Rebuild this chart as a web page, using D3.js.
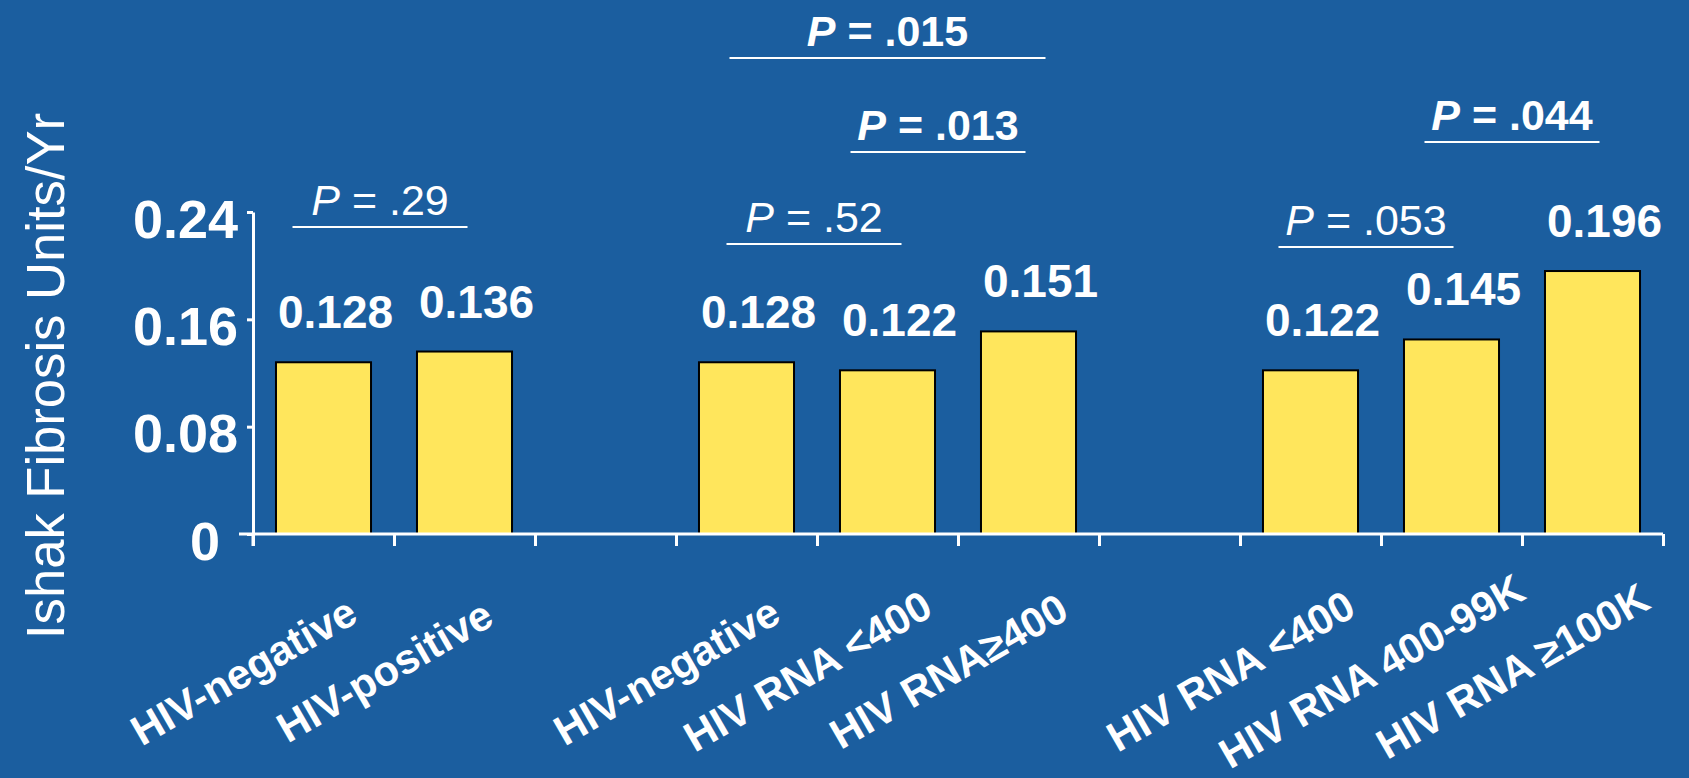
<!DOCTYPE html>
<html>
<head>
<meta charset="utf-8">
<script src="https://cdn.jsdelivr.net/npm/d3@7"></script>
<style>
  html, body { margin: 0; padding: 0; background: #1b5e9f; }
  svg { display: block; }
  text { font-family: "Liberation Sans", Arial, sans-serif; fill: #fff; }
</style>
</head>
<body>
<svg id="chart" width="1689" height="778"></svg>
<script>
// Category slots along the x axis ("" marks a gap between groups)
const slotLabels = [
  "HIV-negative", "HIV-positive", "",
  "HIV-negative", "HIV RNA <400", "HIV RNA\u2265400", "",
  "HIV RNA <400", "HIV RNA 400-99K", "HIV RNA \u2265100K"
];
// Fibrosis progression rate per slot (null = gap)
const rates = [0.128, 0.136, null, 0.128, 0.122, 0.151, null, 0.122, 0.145, 0.196];
const rateLabels = ["0.128", "0.136", "", "0.128", "0.122", "0.151", "", "0.122", "0.145", "0.196"];

// Y axis ticks
const yTicks = [0, 0.08, 0.16, 0.24];
const yTickLabels = ["0", "0.08", "0.16", "0.24"];

// P-value comparisons between slots
const pValues = [".29", ".52", ".015", ".013", ".053", ".044"];
const pFrom = [0, 3, 3, 4, 7, 8];
const pTo = [1, 4, 5, 5, 8, 9];
const pBold = [false, false, true, true, false, true];

// Layout for the comparison brackets (baseline y, horizontal nudge)
const pRowY = [215, 232, 46, 140, 235, 130];
const pNudge = [-14, -3, 0, -20, -15, -10];

const svg = d3.select("#chart");
const W = 1689, H = 778;
svg.append("rect").attr("width", W).attr("height", H).attr("fill", "#1b5e9f");

const left = 253, right = 1663, y0px = 534, yTop = 212;

const x = d3.scaleBand()
  .domain(d3.range(slotLabels.length))
  .range([left, right])
  .paddingInner(0.326)
  .paddingOuter(0.163);

const slotEdge = d3.scaleLinear().domain([0, slotLabels.length]).range([left, right]);

const y = d3.scaleLinear().domain([0, 0.24]).range([y0px, yTop]);

const cx = i => x(i) + x.bandwidth() / 2;

// Y axis
const yAxis = d3.axisLeft(y)
  .tickValues(yTicks)
  .tickSize(6)
  .tickSizeOuter(0)
  .tickFormat((d, i) => yTickLabels[i]);

const gy = svg.append("g").attr("transform", `translate(${left},0)`).call(yAxis);
gy.select(".domain").attr("stroke", "#fff").attr("stroke-width", 3);
gy.selectAll(".tick line").attr("stroke", "#fff").attr("stroke-width", 3);
gy.selectAll(".tick text")
  .attr("fill", "#fff")
  .attr("font-size", 54)
  .attr("font-weight", "bold")
  .attr("font-family", "'Liberation Sans', Arial, sans-serif")
  .attr("x", d => d === 0 ? -33 : -15)
  .attr("dy", null)
  .attr("y", 25);

// Y axis extension below the baseline
svg.append("line")
  .attr("x1", left).attr("x2", left)
  .attr("y1", y0px).attr("y2", y0px + 12)
  .attr("stroke", "#fff").attr("stroke-width", 3);

// Bars
svg.append("g").selectAll("rect")
  .data(rates.map((v, i) => ({ v, i })).filter(d => d.v !== null))
  .join("rect")
  .attr("x", d => x(d.i))
  .attr("width", x.bandwidth())
  .attr("y", d => y(d.v))
  .attr("height", d => y(0) - y(d.v))
  .attr("fill", "#ffe65c")
  .attr("stroke", "#000")
  .attr("stroke-width", 2);

// X axis: baseline with ticks at slot boundaries
const xAxis = d3.axisBottom(slotEdge)
  .tickValues(d3.range(slotLabels.length + 1))
  .tickSize(12)
  .tickSizeOuter(0)
  .tickFormat("");
const gx = svg.append("g").attr("transform", `translate(0,${y0px})`).call(xAxis);
gx.select(".domain").remove();
gx.selectAll(".tick line").attr("stroke", "#fff").attr("stroke-width", 3);
svg.append("line")
  .attr("x1", left - 14).attr("x2", right)
  .attr("y1", y0px).attr("y2", y0px)
  .attr("stroke", "#fff").attr("stroke-width", 3);

// Value labels above bars
svg.append("g").selectAll("text")
  .data(rates.map((v, i) => ({ v, i })).filter(d => d.v !== null))
  .join("text")
  .attr("x", d => cx(d.i) + 12)
  .attr("y", d => y(d.v) - 34)
  .attr("text-anchor", "middle")
  .attr("font-size", 46)
  .attr("font-weight", "bold")
  .text(d => rateLabels[d.i]);

// Category labels, rotated
svg.append("g").selectAll("text")
  .data(slotLabels.map((t, i) => ({ t, i })).filter(d => d.t !== ""))
  .join("text")
  .attr("transform", d => `translate(${cx(d.i) - 80},671) rotate(-30)`)
  .attr("text-anchor", "middle")
  .attr("dy", "0.35em")
  .attr("font-size", 42)
  .attr("font-weight", "bold")
  .text(d => d.t);

// Y axis title
svg.append("text")
  .attr("transform", "translate(64,376) rotate(-90)")
  .attr("text-anchor", "middle")
  .attr("font-size", 54)
  .attr("textLength", 526)
  .attr("lengthAdjust", "spacingAndGlyphs")
  .text("Ishak Fibrosis Units/Yr");

// P-value comparison brackets
pValues.forEach((p, k) => {
  const a = cx(pFrom[k]), b = cx(pTo[k]);
  const mid = (a + b) / 2 + pNudge[k];
  const half = (b - a) / 2 + 17;
  const g = svg.append("g");
  const t = g.append("text")
    .attr("x", mid)
    .attr("y", pRowY[k])
    .attr("text-anchor", "middle")
    .attr("font-size", 43)
    .attr("font-weight", pBold[k] ? "bold" : "normal");
  t.append("tspan").attr("font-style", "italic").text("P");
  t.append("tspan").text(" = " + p);
  g.append("line")
    .attr("x1", mid - half).attr("x2", mid + half)
    .attr("y1", pRowY[k] + 12).attr("y2", pRowY[k] + 12)
    .attr("stroke", "#fff").attr("stroke-width", 2);
});
</script>
</body>
</html>
